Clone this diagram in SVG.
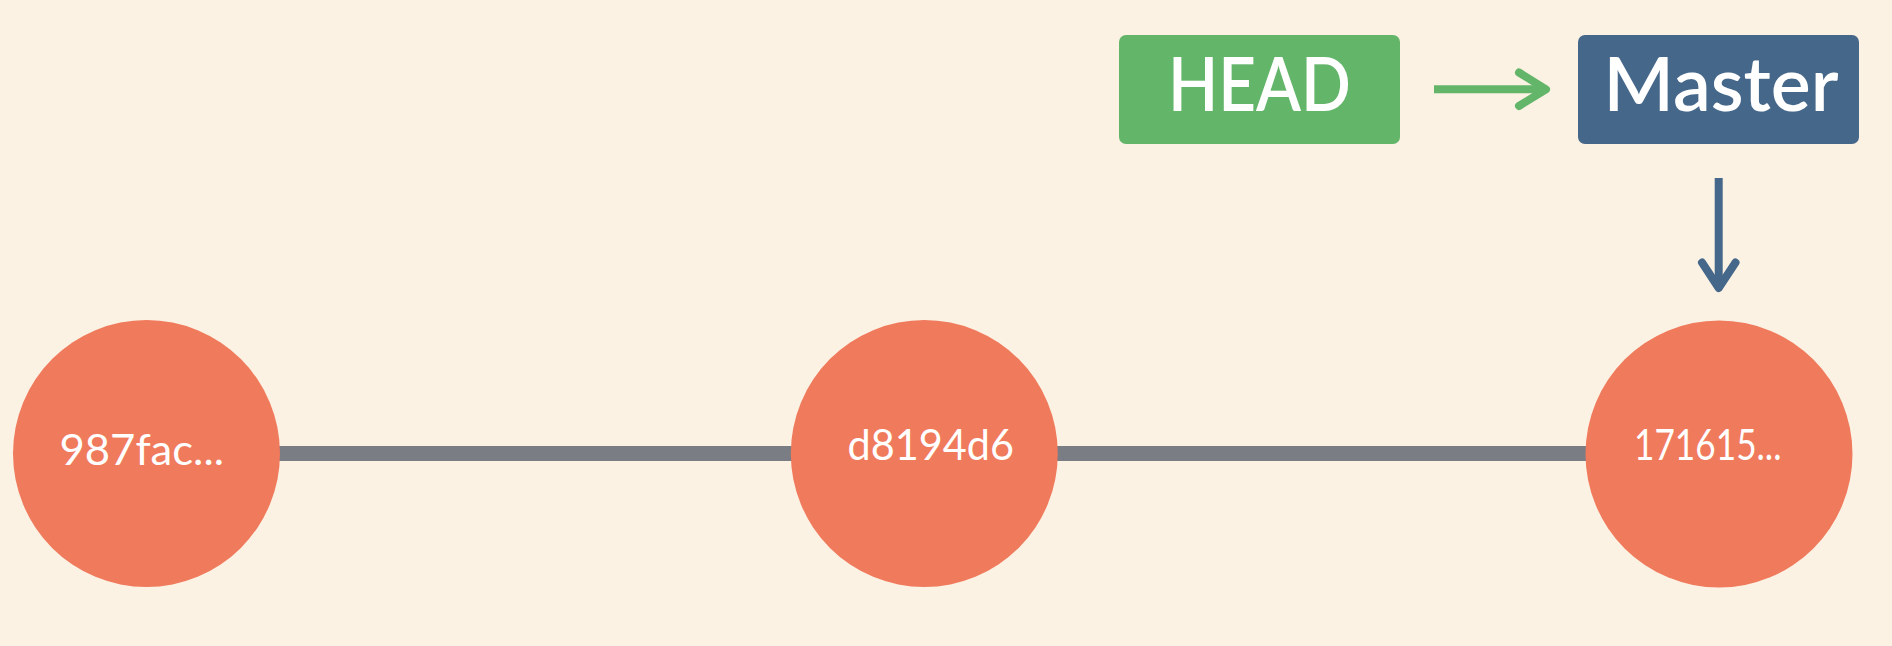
<svg xmlns="http://www.w3.org/2000/svg" width="1892" height="646" viewBox="0 0 1892 646">
<style>
.commit{fill:#f07a5c}
.hash{font-family:Lato,"Liberation Sans",sans-serif;font-weight:400;font-size:43px;fill:#ffffff}
.label{font-family:Lato,"Liberation Sans",sans-serif;font-weight:600;font-size:75px;fill:#ffffff}
.arrow{fill:none;stroke-width:8;stroke-linecap:round;stroke-linejoin:round}
</style>
<rect width="1892" height="646" fill="#fcf2e4"/>
<g id="connectors">
<line x1="270" y1="453.5" x2="1595" y2="453.5" stroke="#7b7d85" stroke-width="15"/>
<line x1="1434" y1="89.3" x2="1544" y2="89.3" stroke="#63b56a" stroke-width="8"/>
<polyline class="arrow" stroke="#63b56a" points="1519,72.5 1546,89.3 1519,106"/>
<line x1="1718.7" y1="178" x2="1718.7" y2="286" stroke="#45678a" stroke-width="8"/>
<polyline class="arrow" stroke="#45678a" points="1702,262.5 1718.7,288 1735.5,262.5"/>
</g>
<g id="commit-987fac">
<circle class="commit" cx="146.5" cy="453.5" r="133.5"/>
<text class="hash" x="59.5" y="465" textLength="164.5" lengthAdjust="spacingAndGlyphs">987fac...</text>
</g>
<g id="commit-d8194d6">
<circle class="commit" cx="924.3" cy="453.5" r="133.5" fill="#ef7153"/>
<text class="hash" x="847.5" y="459.5" textLength="166.5" lengthAdjust="spacingAndGlyphs">d8194d6</text>
</g>
<g id="commit-171615">
<circle class="commit" cx="1719" cy="454" r="133.5"/>
<text class="hash" x="1634" y="459.5" textLength="147.5" lengthAdjust="spacingAndGlyphs">171615...</text>
</g>
<g id="head">
<rect x="1119" y="35" width="281" height="109" rx="7" fill="#63b56a"/>
<text class="label" x="1168" y="110.7" textLength="183" lengthAdjust="spacingAndGlyphs">HEAD</text>
</g>
<g id="master">
<rect x="1578" y="35" width="281" height="109" rx="7" fill="#45678a"/>
<text class="label" x="1603.5" y="110.7" textLength="235" lengthAdjust="spacingAndGlyphs">Master</text>
</g>
</svg>
